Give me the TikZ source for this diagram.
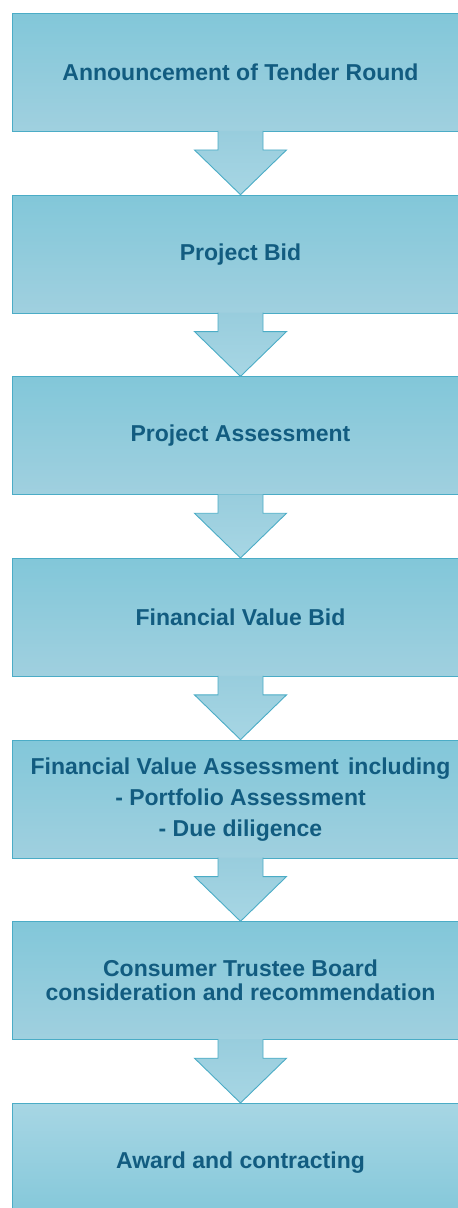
\documentclass[tikz,border=0pt]{standalone}
\usepackage{fontspec}
\setmainfont{Liberation Sans}
\usetikzlibrary{positioning,calc}
\definecolor{stageline}{RGB}{75,172,198}
\definecolor{stagetop}{RGB}{130,199,217}
\definecolor{stagebot}{RGB}{160,208,223}
\definecolor{arrowtop}{RGB}{152,205,221}
\definecolor{arrowbot}{RGB}{167,214,228}
\definecolor{stagetext}{RGB}{18,92,128}
\newcommand{\stagearrow}[2]{%
  \path[blk] ($(#1.south)+(-22.5pt,1pt)$) -- ($(#1.south)+(-22.5pt,-18pt)$) -- ($(#1.south)+(-46pt,-18pt)$)
    -- (#2.north) -- ($(#1.south)+(46pt,-18pt)$) -- ($(#1.south)+(22.5pt,-18pt)$) -- ($(#1.south)+(22.5pt,1pt)$);}

\begin{document}
\begin{tikzpicture}[node distance=62.75pt,
    stage/.style={draw=stageline,line width=0.9pt,top color=stagetop,bottom color=stagebot,minimum width=456pt,minimum height=118pt,inner sep=0pt,align=center,text=stagetext,font=\fontsize{23}{24}\selectfont\bfseries},
    laststage/.style={stage,top color=arrowbot,bottom color=stagetop},
    blk/.style={draw=stageline,line width=0.9pt,top color=arrowtop,bottom color=arrowbot}]
    \useasboundingbox (0,0) rectangle (458pt,-1208pt);
    \node[stage] (announce) at (240.5pt,-72.5pt) {Announcement of Tender Round};
    \node[stage,below=of announce] (bid) {Project Bid};
    \node[stage,below=of bid] (assess) {Project Assessment};
    \node[stage,below=of assess] (valuebid) {Financial Value Bid};
    \node[stage,below=of valuebid] (valueassess) {Financial Value Assessment\hspace{3pt} including\\[7pt] - Portfolio Assessment\\[7pt] - Due diligence};
    \node[stage,below=of valueassess] (board) {Consumer Trustee Board\\consideration and recommendation};
    \node[laststage,below=of board] (award) {Award and contracting};
    \stagearrow{announce}{bid}
    \stagearrow{bid}{assess}
    \stagearrow{assess}{valuebid}
    \stagearrow{valuebid}{valueassess}
    \stagearrow{valueassess}{board}
    \stagearrow{board}{award}
  \end{tikzpicture}
\end{document}
